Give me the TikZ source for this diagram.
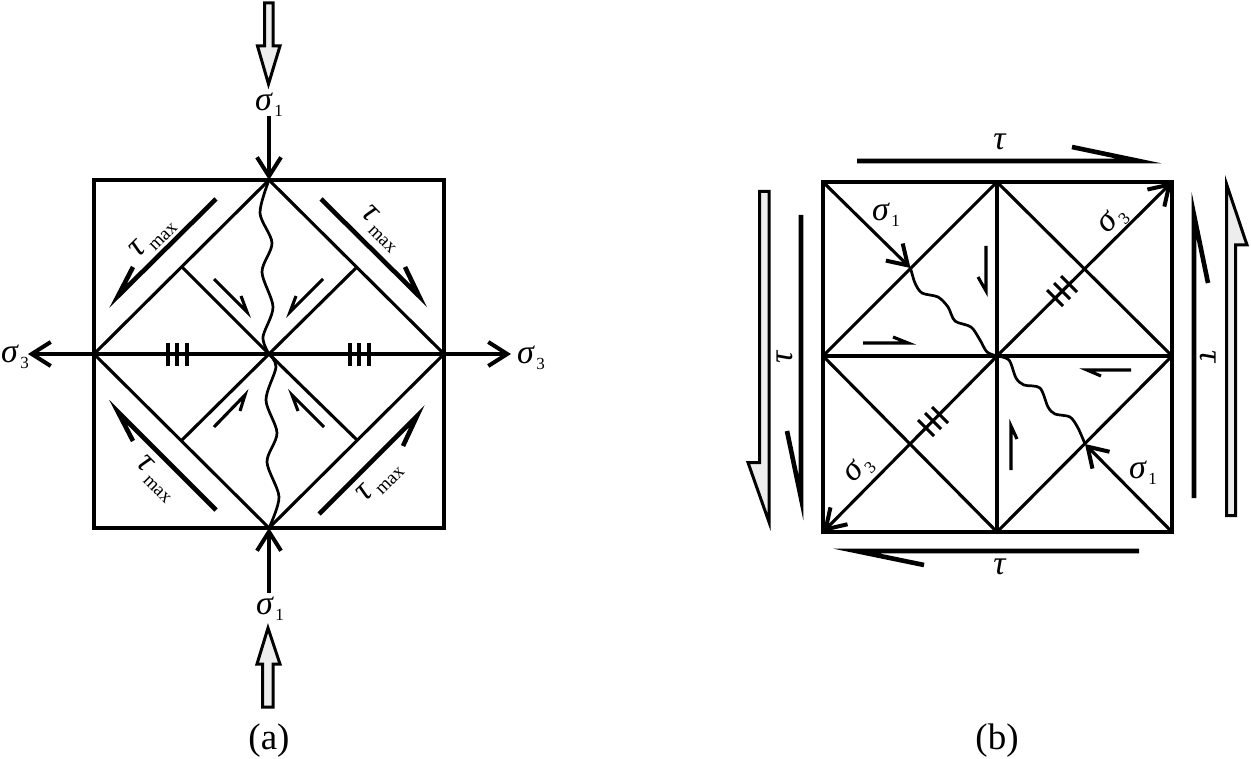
\documentclass[tikz,border=0pt]{standalone}
\usepackage{fontspec}
\setmainfont{Liberation Serif}
\usetikzlibrary{arrows.meta}
\newcommand{\sig}[1]{\textit{σ}\kern1.5pt\raisebox{-6pt}{\fontsize{17}{17}\selectfont #1}}
\newcommand{\taumax}{\textit{τ}\raisebox{-7pt}{\fontsize{19}{19}\selectfont\,max}}
\tikzset{
  outline/.style={line width=3.1pt,line join=miter},
  bigarrow/.style={line width=3pt,fill=black!7,miter limit=40},
  force/.style={line width=3.1pt,-{Straight Barb[length=19pt,width=24pt,line width=4pt]}},
  thickhalf/.style={line width=4.6pt,miter limit=40},
  thinhalf/.style={line width=3.1pt,miter limit=40},
  tickmark/.style={line width=3.1pt},
  wave/.style={line width=2.7pt,smooth},
  lab/.style={inner sep=0pt,font=\fontsize{34}{34}\selectfont},
  captxt/.style={inner sep=0pt,font=\fontsize{37}{37}\selectfont},
}
\begin{document}
\begin{tikzpicture}[x=1pt,y=-1pt]
\useasboundingbox (0,0) rectangle (1251,759);
% left square
\coordinate (TL) at (94,180);
\coordinate (TR) at (444,180);
\coordinate (BL) at (94,528);
\coordinate (BR) at (444,528);
\coordinate (T) at (269,180);
\coordinate (B) at (269,528);
\coordinate (L) at (94,354);
\coordinate (R) at (444,354);
\coordinate (M) at (269,354);
\draw[outline] (TL)--(TR)--(BR)--(BL)--cycle;
\draw[outline] (T)--(R)--(B)--(L)--cycle;
\draw[outline] (M)--(182,267);
\draw[outline] (M)--(357,267);
\draw[outline] (M)--(182,440);
\draw[outline] (M)--(357,440);
\draw[force] (269,116)--(269,180);
\draw[force] (269,593)--(269,528);
\draw[force] (M)--(28,354);
\draw[force] (M)--(511,354);
% fracture
\draw[wave] plot coordinates {(T) (260,213) (272,243) (262,272) (273,307) (263,337) (M)};
\draw[wave] plot coordinates {(M) (276,367) (266,400) (277,433) (267,462) (279,497) (B)};
% ticks
\foreach \x in {168,177,187,350,359,369}
  \draw[tickmark] (\x,343)--(\x,366);
% loading arrows
\draw[bigarrow] (264.5,3)--(273,3)--(273,46)--(280,46)--(268.5,84)--(257.5,46)--(264.5,46)--cycle;
\draw[bigarrow] (262.5,707)--(273,707)--(273,664)--(280,664)--(268,628)--(257,664)--(262.5,664)--cycle;
% shear arrows
\draw[thickhalf] (216,199)--(118,296)--(133,267);
\draw[thickhalf] (321,199)--(419,296)--(405,267);
\draw[thickhalf] (216,510)--(118,412)--(133,441);
\draw[thickhalf] (319,514)--(417,416)--(403,446);
\draw[thinhalf] (214,279)--(247,312)--(241,296);
\draw[thinhalf] (323,279)--(290,312)--(296,296);
\draw[thinhalf] (214,427)--(245,395)--(240,411);
\draw[thinhalf] (324,427)--(292,395)--(298,411);
% labels
\node[lab] (s1top) at (269,105) {\sig{1}};
\node[lab] (s1bot) at (270,609) {\sig{1}};
\node[lab] (s3lft) at (15,357) {\sig{3}};
\node[lab] (s3rgt) at (531,358) {\sig{3}};
\node[lab,rotate=45] (tTL) at (153,238) {\taumax};
\node[lab,rotate=-45] (tTR) at (381,229) {\taumax};
\node[lab,rotate=-45] (tBL) at (156,479) {\taumax};
\node[lab,rotate=45] (tBR) at (380,482) {\taumax};
\node[captxt] (capa) at (269,741) {(a)};
% right square
\coordinate (P) at (823,182);
\coordinate (Q) at (1172,182);
\coordinate (S) at (1172,532);
\coordinate (U) at (823,532);
\coordinate (Pq) at (997,182);
\coordinate (Qs) at (1172,356);
\coordinate (Su) at (997,532);
\coordinate (Up) at (823,356);
\coordinate (O) at (997,356);
\coordinate (E) at (910.5,268);
\coordinate (F) at (1085,444);
\draw[outline] (P)--(Q)--(S)--(U)--cycle;
\draw[outline] (Pq)--(Su);
\draw[outline] (Up)--(Qs);
\draw[outline] (Pq)--(Qs)--(Su)--(Up)--cycle;
\draw[force] (P)--(E);
\draw[force] (S)--(F);
\draw[force] (O)--(Q);
\draw[force] (O)--(U);
\draw[wave] plot coordinates {(E) (915,283) (922,293) (938,297) (948,307) (955,321) (971,327) (980,340) (987,352) (O)};
\draw[wave] plot coordinates {(O) (1009,360) (1016,378) (1024,385) (1040,388) (1048,407) (1055,414) (1070,417) (1078,428) (F)};
% ticks
\draw[tickmark] (1047,290)--(1063,306);
\draw[tickmark] (1054,283)--(1070,299);
\draw[tickmark] (1061,276)--(1077,292);
\draw[tickmark] (918,420)--(934,436);
\draw[tickmark] (925,413)--(941,429);
\draw[tickmark] (932,407)--(948,423);
% loading arrows
\draw[bigarrow] (759.5,191.5)--(769,191.5)--(769,522)--(748,462.5)--(759.5,462.5)--cycle;
\draw[bigarrow] (1226.5,184)--(1247,245)--(1235.5,245)--(1235.5,515.5)--(1226.5,515.5)--cycle;
% shear arrows
\draw[thickhalf] (857,161)--(1139,161)--(1072,147);
\draw[thickhalf] (1139,551)--(856,551)--(924,565);
\draw[thickhalf] (801,215)--(801,498)--(787,431);
\draw[thickhalf] (1194,498)--(1194,215)--(1208,283);
\draw[thinhalf] (986,246)--(986,291)--(978,277);
\draw[thinhalf] (863,343)--(908,343)--(893,337);
\draw[thinhalf] (1011,470)--(1011,426)--(1017,439);
\draw[thinhalf] (1131,370)--(1087,370)--(1101,376);
% labels
\node[lab] (ttop) at (1000,142) {\textit{τ}};
\node[lab] (tbot) at (1000,567) {\textit{τ}};
\node[lab,rotate=90] (tlft) at (785,357) {\textit{τ}};
\node[lab,rotate=-90] (trgt) at (1208,357) {\textit{τ}};
\node[lab] (s1a) at (886,215) {\sig{1}};
\node[lab] (s1b) at (1143,473) {\sig{1}};
\node[lab,rotate=45] (s3a) at (1113,221) {\sig{3}};
\node[lab,rotate=45] (s3b) at (859,470) {\sig{3}};
\node[captxt] (capb) at (997,741) {(b)};
\end{tikzpicture}
\end{document}
